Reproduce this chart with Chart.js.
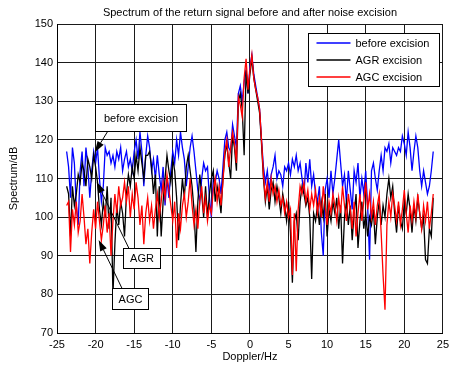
<!DOCTYPE html>
<html>
<head>
<meta charset="utf-8">
<script src="https://cdn.jsdelivr.net/npm/chart.js@4/dist/chart.umd.min.js"></script>
<style>
  html, body { margin: 0; padding: 0; background: #fff; }
  #wrap { width: 454px; height: 367px; position: relative; }
</style>
</head>
<body>
<div id="wrap"><canvas id="spectrum"></canvas></div>
<script>
// Doppler bins: -23.75 Hz to 23.75 Hz in 0.25 Hz steps
const dopplerStart = -23.75;
const dopplerStep = 0.25;

// Spectrum (dB) before excision
const beforeExcision = [
  117,113,105,118, 114,103,98,112, 117,108,118,113, 105,112,117,114,
  118,110,104,108, 118,116,117,114, 116,113,117,115, 118,112,115,117,
  113,115,112,117, 120,115,122,117, 108,116,121,118, 112,115,110,116,
  111,107,113,103, 110,105,112,117, 114,120,116,122, 118,115,108,113,
  118,121,117,112, 107,104,110,114, 112,113,105,100, 110,109,112,110,
  106,113,120,122, 118,117,124,121, 118,132,134,130, 135,138,132,139,
  142,137,134,131, 128,120,113,109, 112,107,111,113, 116,110,112,111,
  108,113,112,114, 111,115,113,116, 112,114,110,106, 114,109,115,108,
  111,106,104,108, 96,90,107,110, 105,112,106,110, 115,120,114,108,
  111,104,112,107, 102,112,109,114, 105,110,106,112, 103,89,112,114,
  110,107,112,116, 112,118,117,119, 114,118,117,116, 118,117,121,119,
  116,122,118,112, 117,121,118,112, 108,112,109,106, 108,112,117
];

// Spectrum (dB) after AGR excision
const agrExcision = [
  108,106,95,108, 103,106,111,109, 114,112,108,115, 113,110,116,113,
  109,102,98,104, 100,108,97,105, 80,93,103,98, 104,101,95,106,
  111,108,113,110, 116,112,118,114, 110,116,116,117, 113,106,111,95,
  108,95,104,110, 116,112,109,115, 112,105,94,103, 110,105,113,116,
  112,108,102,91, 104,111,106,100, 108,100,106,110, 112,104,108,105,
  101,110,116,119, 114,110,121,118, 112,130,132,128, 116,138,132,137,
  141,136,133,130, 127,119,110,104, 108,102,107,109, 104,108,105,101,
  106,103,99,104, 96,83,99,101, 94,104,108,106, 103,105,100,84,
  101,99,103,98, 104,100,106,95, 102,99,104,101, 105,97,103,88,
  100,104,98,103, 94,101,106,92, 99,104,97,101, 95,100,98,102,
  93,100,104,98, 103,100,106,110, 105,108,101,96, 103,99,97,104,
  101,106,102,96, 103,99,105,101, 97,100,89,88, 97,95,105
];

// Spectrum (dB) after AGC excision
const agcExcision = [
  103,104,91,102, 98,104,96,99, 106,100,93,97, 88,96,102,97,
  104,99,94,98, 103,96,101,90, 99,106,101,108, 103,105,109,104,
  108,100,106,102, 109,105,98,103, 93,101,105,99, 103,97,102,106,
  100,104,109,105, 111,107,103,99, 104,92,101,97, 103,106,100,104,
  110,103,98,102, 97,104,108,101, 105,99,103,101, 107,110,104,108,
  103,109,117,120, 113,118,122,119, 114,131,129,126, 136,141,133,138,
  142,136,133,131, 128,120,111,105, 109,104,110,106, 108,104,107,103,
  105,101,104,100, 102,85,101,86, 102,108,106,109, 104,107,102,106,
  103,107,101,105, 100,108,103,98, 104,101,106,103, 99,105,101,108,
  103,99,106,102, 97,104,95,101, 106,99,104,109, 102,106,100,104,
  98,103,106,96, 85,76,98,104, 100,106,103,99, 104,98,102,107,
  101,96,103,99, 104,100,106,101, 97,103,99,104, 97,101,106
];

// Axis ticks
const xTicks = [-25, -20, -15, -10, -5, 0, 5, 10, 15, 20, 25];
const yTicks = [70, 80, 90, 100, 110, 120, 130, 140, 150];

const seriesNames = ['before excision', 'AGR excision', 'AGC excision'];
const seriesColors = ['#0000ff', '#000000', '#ff0000'];

const toPoints = arr => arr.map((v, i) => ({ x: dopplerStart + i * dopplerStep, y: v }));

// Text callouts with arrows, placed in axis units
const callouts = [
  { text: 'before excision', box: [-20.1, 129.3, -8.25, 122.3], from: [-18.4, 122.3], to: [-20.1, 116.8] },
  { text: 'AGR', box: [-16.5, 92.0, -11.7, 86.8], from: [-15.7, 92.0], to: [-19.85, 109.1] },
  { text: 'AGC', box: [-17.9, 81.65, -13.15, 76.2], from: [-16.6, 81.65], to: [-19.6, 94.1] }
];

const FONT = '11px "Liberation Sans", Arial, sans-serif';

function drawArrow(ctx, x1, y1, x2, y2) {
  const ang = Math.atan2(y2 - y1, x2 - x1);
  const len = 11, half = 3.6;
  const bx = x2 - len * Math.cos(ang), by = y2 - len * Math.sin(ang);
  ctx.beginPath();
  ctx.moveTo(x1, y1);
  ctx.lineTo(bx, by);
  ctx.stroke();
  ctx.beginPath();
  ctx.moveTo(x2, y2);
  ctx.lineTo(bx + half * Math.sin(ang), by - half * Math.cos(ang));
  ctx.lineTo(bx - half * Math.sin(ang), by + half * Math.cos(ang));
  ctx.closePath();
  ctx.fill();
}

const decorations = {
  id: 'decorations',
  afterDatasetsDraw(chart) {
    const { ctx, chartArea: ca, scales: { x, y } } = chart;
    ctx.save();
    ctx.font = FONT;
    ctx.lineWidth = 1;
    ctx.strokeStyle = '#000';
    ctx.fillStyle = '#000';

    // callouts
    callouts.forEach(c => {
      const l = Math.round(x.getPixelForValue(c.box[0])) + 0.5;
      const t = Math.round(y.getPixelForValue(c.box[1])) + 0.5;
      const r = Math.round(x.getPixelForValue(c.box[2])) + 0.5;
      const b = Math.round(y.getPixelForValue(c.box[3])) + 0.5;
      ctx.strokeStyle = '#000';
      ctx.fillStyle = '#000';
      drawArrow(ctx, x.getPixelForValue(c.from[0]), y.getPixelForValue(c.from[1]),
                x.getPixelForValue(c.to[0]), y.getPixelForValue(c.to[1]));
      ctx.fillStyle = '#fff';
      ctx.fillRect(l, t, r - l, b - t);
      ctx.strokeRect(l, t, r - l, b - t);
      ctx.fillStyle = '#000';
      ctx.textAlign = 'center';
      ctx.textBaseline = 'middle';
      ctx.fillText(c.text, (l + r) / 2, (t + b) / 2 + 0.5);
    });

    // legend box
    const lw = 131, lh = 53;
    const lx = Math.round(ca.right - 4 - lw) + 0.5, ly = Math.round(ca.top + 9) + 0.5;
    ctx.fillStyle = '#fff';
    ctx.fillRect(lx, ly, lw, lh);
    ctx.strokeStyle = '#000';
    ctx.lineWidth = 1;
    ctx.strokeRect(lx, ly, lw, lh);
    ctx.textAlign = 'left';
    ctx.textBaseline = 'middle';
    seriesNames.forEach((name, i) => {
      const rowY = Math.round(ly + 9 + i * 17);
      ctx.beginPath();
      ctx.lineWidth = 1.4;
      ctx.strokeStyle = seriesColors[i];
      ctx.moveTo(lx + 8, rowY);
      ctx.lineTo(lx + 42, rowY);
      ctx.stroke();
      ctx.fillStyle = '#000';
      ctx.fillText(name, lx + 47, rowY + 0.5);
    });

    ctx.restore();
  },
  afterDraw(chart) {
    const { ctx, chartArea: ca } = chart;
    ctx.save();
    ctx.font = FONT;
    ctx.fillStyle = '#000';
    ctx.textAlign = 'center';
    ctx.textBaseline = 'middle';
    ctx.fillText('Spectrum of the return signal before and after noise excision', (ca.left + ca.right) / 2, 13);
    ctx.fillText('Doppler/Hz', (ca.left + ca.right) / 2, 357);
    ctx.translate(14, (ca.top + ca.bottom) / 2);
    ctx.rotate(-Math.PI / 2);
    ctx.fillText('Spectrum/dB', 0, 0);
    ctx.restore();
  }
};

new Chart(document.getElementById('spectrum'), {
  type: 'line',
  data: {
    datasets: [
      { label: seriesNames[0], data: toPoints(beforeExcision), borderColor: seriesColors[0], order: 2 },
      { label: seriesNames[1], data: toPoints(agrExcision), borderColor: seriesColors[1], order: 1 },
      { label: seriesNames[2], data: toPoints(agcExcision), borderColor: seriesColors[2], order: 0 }
    ]
  },
  options: {
    responsive: true,
    maintainAspectRatio: false,
    animation: false,
    devicePixelRatio: 1,
    layout: { padding: { left: 0, right: 9, top: 24, bottom: 0 } },
    elements: {
      line: { borderWidth: 1.3, tension: 0 },
      point: { radius: 0 }
    },
    plugins: {
      legend: { display: false },
      tooltip: { enabled: false },
      title: { display: false }
    },
    scales: {
      x: {
        type: 'linear',
        min: -25, max: 25,
        afterBuildTicks: s => { s.ticks = xTicks.map(v => ({ value: v })); },
        afterFit: s => { s.height = 34; },
        grid: { color: '#1a1a1a', lineWidth: 1, drawTicks: false },
        border: { color: '#000', width: 1 },
        ticks: { color: '#000', font: { family: '"Liberation Sans", Arial, sans-serif', size: 11 }, padding: 5, maxRotation: 0 }
      },
      y: {
        min: 70, max: 150,
        afterBuildTicks: s => { s.ticks = yTicks.map(v => ({ value: v })); },
        afterFit: s => { s.width = 57; },
        grid: { color: '#1a1a1a', lineWidth: 1, drawTicks: false },
        border: { color: '#000', width: 1 },
        ticks: { color: '#000', font: { family: '"Liberation Sans", Arial, sans-serif', size: 11 }, padding: 4 }
      }
    }
  },
  plugins: [decorations]
});
</script>
</body>
</html>
